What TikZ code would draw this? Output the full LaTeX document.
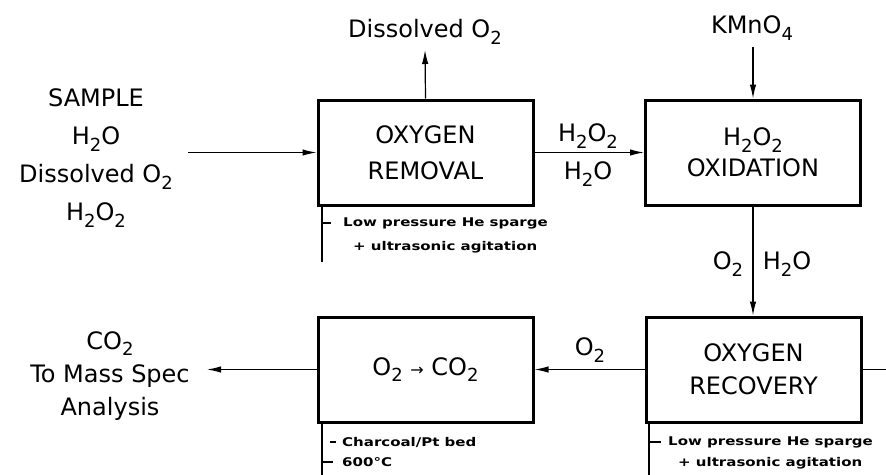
\documentclass[tikz,border=0pt]{standalone}
\usepackage{fontspec}
\setmainfont{DejaVu Sans}
\newfontfamily\annofont[FakeStretch=1.25]{DejaVu Sans}
\usetikzlibrary{arrows.meta}
\newcommand\chsub[1]{\raisebox{-0.5ex}{\fontsize{18}{18}\selectfont #1}}
\tikzset{
  procbox/.style={draw, line width=3pt, minimum width=215pt, minimum height=105pt, inner sep=0pt, align=center},
  lbl/.style={inner sep=0pt, align=center, font=\fontsize{24}{36}\selectfont},
  flow/.style={line width=1.2pt, -{Latex[length=14pt,width=6.5pt]}},
  plain/.style={line width=1.2pt},
  anno/.style={inner sep=0pt, anchor=west, font=\annofont\bfseries\fontsize{12}{14}\selectfont},
  annoline/.style={line width=2pt}
}
\begin{document}
\begin{tikzpicture}[x=1pt,y=-1pt]
\useasboundingbox (0,0) rectangle (886,474);
% process boxes
\node[procbox, lbl] (removal) at (425.5,152.5) {OXYGEN\\REMOVAL};
\node[procbox, lbl, font=\fontsize{24}{31}\selectfont] (oxid) at (753,152.5) {H\chsub{2}O\chsub{2}\\OXIDATION};
\node[procbox, lbl] (conv) at (425.5,369.5) {O\chsub{2} {\fontsize{16}{16}\selectfont →} CO\chsub{2}};
\node[procbox, lbl, font=\fontsize{24}{33}\selectfont] (recov) at (753.5,369.5) {OXYGEN\\RECOVERY};
% texts
\node[lbl, font=\fontsize{24}{38}\selectfont] (sample) at (96,158) {SAMPLE\\H\chsub{2}O\\Dissolved O\chsub{2}\\H\chsub{2}O\chsub{2}};
\node[lbl] (dtop) at (425,32) {Dissolved O\chsub{2}};
\node[lbl] (kmno) at (752,28) {KMnO\chsub{4}};
\node[lbl] (h2o2a) at (588,136) {H\chsub{2}O\chsub{2}};
\node[lbl] (h2oa) at (588,174) {H\chsub{2}O};
\node[lbl] (o2d) at (728,264) {O\chsub{2}};
\node[lbl] (h2od) at (787,264) {H\chsub{2}O};
\node[lbl] (o2l) at (590,350) {O\chsub{2}};
\node[lbl, font=\fontsize{24}{33}\selectfont] (outtxt) at (110,376) {CO\chsub{2}\\To Mass Spec\\Analysis};
% coordinates
\coordinate (sin) at (188,152.5);
\coordinate (dtip) at (425,50);
\coordinate (ktail) at (753,47);
\coordinate (otip) at (207,369.5);
\coordinate (rout) at (886,369.5);
% connectors
\draw[flow] (sin) -- (removal.west);
\draw[flow] (removal.north) -- (dtip);
\draw[flow] (ktail) -- (oxid.north);
\draw[flow] (removal.east) -- (oxid.west);
\draw[flow] (oxid.south) -- (oxid.south |- recov.north);
\draw[flow] (recov.west) -- (conv.east);
\draw[flow] (conv.west) -- (otip);
\draw[plain] (recov.east) -- (rout);
% annotations
\draw[annoline] ([xshift=5pt]removal.south west) -- ++(0,55);
\draw[annoline] (323,223) -- (331,223);
\node[anno] (a1) at (343,223) {Low pressure He sparge};
\node[anno] (a2) at (353,247) {+ ultrasonic agitation};
\draw[annoline] ([xshift=5pt]conv.south west) -- ++(0,55);
\draw[annoline] (330,442) -- (336,442);
\draw[annoline] (323,462) -- (333,462);
\node[anno] (a3) at (342,442) {Charcoal/Pt bed};
\node[anno] (a4) at (342,462) {600°C};
\draw[annoline] ([xshift=4pt]recov.south west) -- ++(0,55);
\draw[annoline] (650,442) -- (661,442);
\node[anno] (a5) at (668,442) {Low pressure He sparge};
\node[anno] (a6) at (678,463) {+ ultrasonic agitation};
\end{tikzpicture}
\end{document}
